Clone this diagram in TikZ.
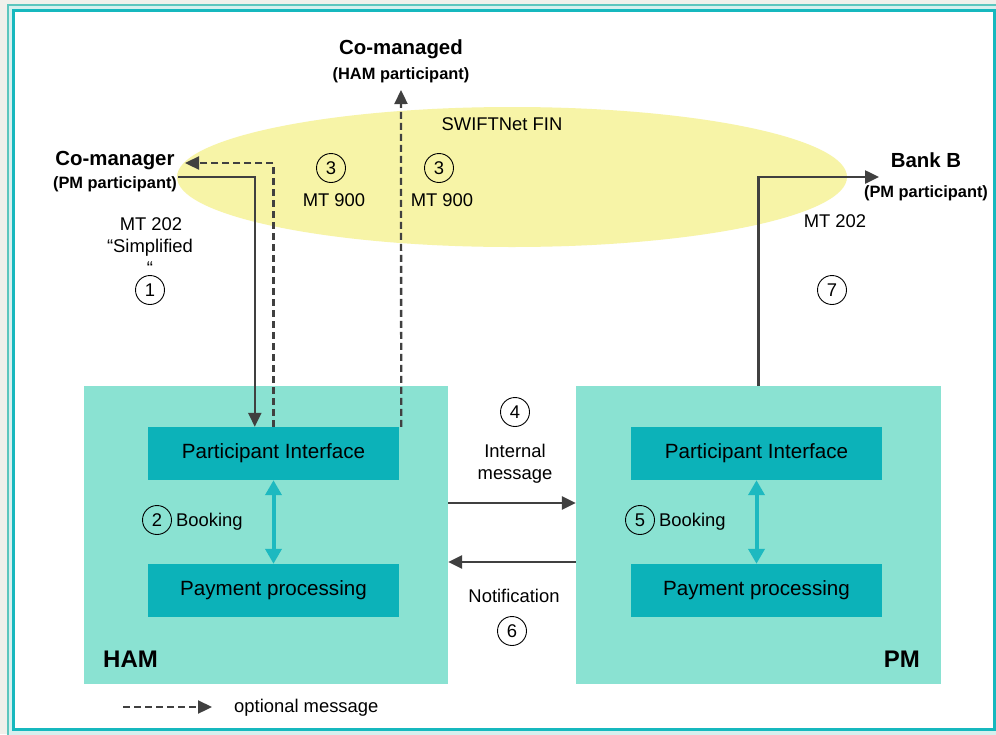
\documentclass[tikz,border=0pt]{standalone}
\usepackage{fontspec}
\setmainfont{Liberation Sans}
\usetikzlibrary{arrows.meta,calc,shapes.geometric}
\definecolor{bggray}{HTML}{F0F0EB}
\definecolor{framelight}{HTML}{5CC6BE}
\definecolor{framestrip}{HTML}{D6F0EE}
\definecolor{framedark}{HTML}{17B8BE}
\definecolor{outerfill}{HTML}{8AE2D2}
\definecolor{innerfill}{HTML}{0CB2B9}
\definecolor{tealarrow}{HTML}{1DB9C0}
\definecolor{swiftyellow}{HTML}{F7F4A7}
\definecolor{linegray}{HTML}{404040}
\tikzset{
  normaltxt/.style={font=\fontsize{18.4}{22}\selectfont, inner sep=0pt},
  boldbig/.style={font=\bfseries\fontsize{20.4}{24}\selectfont, inner sep=0pt},
  boldsmall/.style={font=\bfseries\fontsize{16.4}{20}\selectfont, inner sep=0pt},
  boldhuge/.style={font=\bfseries\fontsize{24}{28}\selectfont, inner sep=0pt},
  sysbox/.style={fill=outerfill, draw=none, inner sep=0pt},
  compbox/.style={fill=innerfill, draw=none, inner sep=0pt, minimum width=251pt, minimum height=53pt,
    font=\fontsize{20.6}{24}\selectfont},
  numc/.style={circle, draw=black, line width=0.9pt, minimum size=29pt, inner sep=0pt,
    font=\fontsize{18.4}{22}\selectfont},
  arr/.style={draw=linegray, line width=2.5pt, -{Triangle[length=14pt,width=13pt]}},
  dasharr/.style={draw=linegray, line width=2.3pt, dash pattern=on 7pt off 4pt, -{Triangle[length=14pt,width=13pt]}},
  bookarr/.style={draw=tealarrow, line width=4pt, {Triangle[length=15pt,width=16pt]}-{Triangle[length=15pt,width=16pt]}}
}
\begin{document}
\begin{tikzpicture}[x=1pt,y=-1pt]
\useasboundingbox (0,0) rectangle (996,734);
\clip (0,0) rectangle (996,734);
% frame
\fill[bggray] (0,0) rectangle (996,734);
\filldraw[fill=framestrip, draw=framelight, line width=2pt] (8,5) rectangle (1010,750);
\filldraw[fill=white, draw=framedark, line width=2.5pt] (13.5,10.5) rectangle (994.5,729.5);

% SWIFTNet cloud
\node[ellipse, fill=swiftyellow, draw=none, minimum width=670pt, minimum height=140pt, inner sep=0pt] (swift) at (512,177) {};
\node[normaltxt, anchor=base] (swiftlbl) at (502,130) {SWIFTNet FIN};

% system boxes
\node[sysbox, minimum width=364pt, minimum height=298pt] (ham) at (266,535) {};
\node[sysbox, minimum width=365pt, minimum height=298pt] (pm) at (758.5,535) {};
\node[compbox] (hamPI) at (273.5,453.5) {Participant Interface};
\node[compbox] (hamPP) at (273.5,590.5) {Payment processing};
\node[compbox] (pmPI) at (756.5,453.5) {Participant Interface};
\node[compbox] (pmPP) at (756.5,590.5) {Payment processing};
\node[boldhuge, anchor=base west] (hamlbl) at (103,667) {HAM};
\node[boldhuge, anchor=base east] (pmlbl) at (920,667) {PM};

% booking
\draw[bookarr] (hamPI.south) -- (hamPP.north);
\draw[bookarr] (pmPI.south) -- (pmPP.north);
\node[numc] (n2) at (157,520) {2};
\node[normaltxt, anchor=base west] (book1) at (176,526) {Booking};
\node[numc] (n5) at (640,520) {5};
\node[normaltxt, anchor=base west] (book2) at (659,526) {Booking};

% participants
\node[boldbig, anchor=base] (cmgr) at (115,165) {Co-manager};
\node[boldsmall, anchor=base] (cmgrsub) at (115,188) {(PM participant)};
\node[boldbig, anchor=base] (cmgd) at (401,54) {Co-managed};
\node[boldsmall, anchor=base] (cmgdsub) at (401,79) {(HAM participant)};
\node[boldbig, anchor=base] (bankb) at (926,167) {Bank B};
\node[boldsmall, anchor=base] (bankbsub) at (926,197) {(PM participant)};

\coordinate (cmout) at (178,177);
\coordinate (cmin) at (185,163);
\coordinate (cmdin) at (401,90);
\coordinate (bkin) at (879,177);

% messages
\draw[arr] (cmout) -| ($(hamPI.north west)+(107,0)$);
\draw[dasharr] (hamPI.north) |- (cmin);
\draw[dasharr] ($(hamPI.north east)+(2,0)$) -- (cmdin);
\draw[arr] (pm.north) |- (bkin);
\draw[arr] ($(ham.east)+(0,-32)$) -- ($(pm.west)+(0,-32)$);
\draw[arr] ($(pm.west)+(0,27)$) -- ($(ham.east)+(0,27)$);

% labels
\node[normaltxt, anchor=base] (mt202a) at (151,230) {MT 202};
\node[normaltxt, anchor=base] (mt202b) at (150,252) {“Simplified};
\node[normaltxt, anchor=base] (mt202c) at (150,274) {“};
\node[numc] (n1) at (150,290) {1};
\node[numc] (n3a) at (331,168) {3};
\node[normaltxt, anchor=base] (mt900a) at (334,206) {MT 900};
\node[numc] (n3b) at (439,168) {3};
\node[normaltxt, anchor=base] (mt900b) at (442,206) {MT 900};
\node[normaltxt, anchor=base] (mt202r) at (835,227) {MT 202};
\node[numc] (n7) at (832,290) {7};
\node[numc] (n4) at (515,412) {4};
\node[normaltxt, anchor=base] (intl) at (515,457) {Internal};
\node[normaltxt, anchor=base] (intm) at (515,479) {message};
\node[normaltxt, anchor=base] (notif) at (514,602) {Notification};
\node[numc] (n6) at (512,631) {6};

% legend
\coordinate (lg1) at (123,707);
\coordinate (lg2) at (212,707);
\draw[dasharr] (lg1) -- (lg2);
\node[normaltxt, anchor=base west] (lgtxt) at (234,712) {optional message};
\end{tikzpicture}
\end{document}
